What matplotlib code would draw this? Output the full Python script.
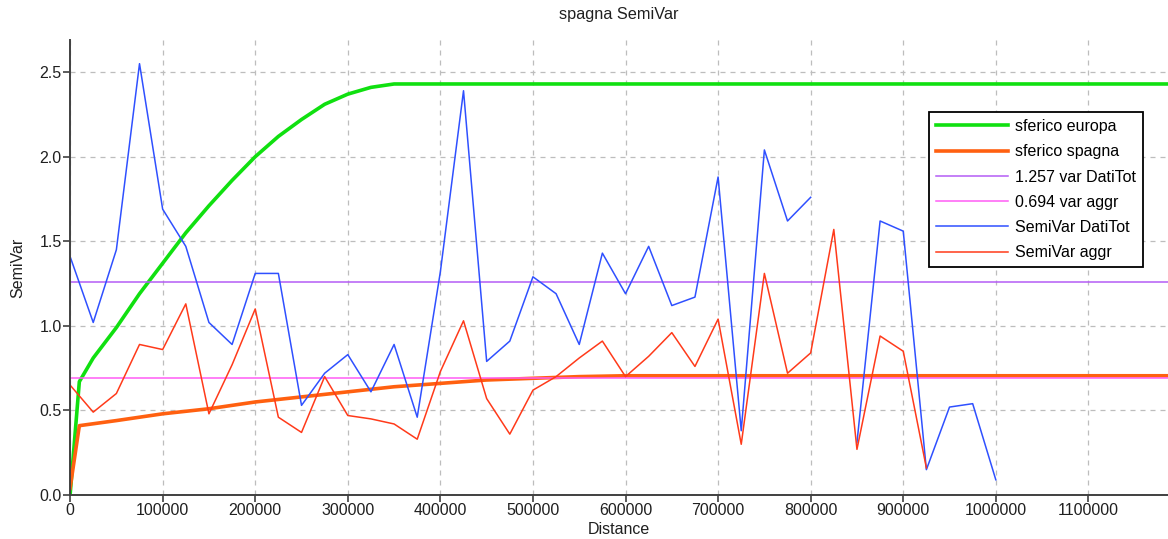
import numpy as np
import matplotlib
matplotlib.use("Agg")
import matplotlib.pyplot as plt

plt.rcParams['font.family'] = ['Liberation Sans', 'DejaVu Sans']
plt.rcParams['font.size'] = 11.5

# experimental semivariogram lags (step 25 km)
lags = np.arange(0, 1000001, 25000)

semivar_datitot = [1.41, 1.02, 1.45, 2.55, 1.69, 1.47, 1.02, 0.89, 1.31, 1.31,
                   0.53, 0.72, 0.83, 0.61, 0.89, 0.46, 1.32, 2.39, 0.79, 0.91,
                   1.29, 1.19, 0.89, 1.43, 1.19, 1.47, 1.12, 1.17, 1.88, 0.38,
                   2.04, 1.62, 1.76, np.nan, 0.31, 1.62, 1.56, 0.15, 0.52, 0.54,
                   0.09]

semivar_aggr = [0.65, 0.49, 0.60, 0.89, 0.86, 1.13, 0.48, 0.77, 1.10, 0.46,
                0.37, 0.70, 0.47, 0.45, 0.42, 0.33, 0.73, 1.03, 0.57, 0.36,
                0.62, 0.70, 0.81, 0.91, 0.70, 0.82, 0.96, 0.76, 1.04, 0.30,
                1.31, 0.72, 0.84, 1.57, 0.27, 0.94, 0.85, 0.16]

# fitted spherical models
europa_x = [0, 10000, 25000, 50000, 75000, 100000, 125000, 150000, 175000,
            200000, 225000, 250000, 275000, 300000, 325000, 350000, 1186000]
europa_y = [0.0, 0.67, 0.81, 0.99, 1.19, 1.37, 1.55, 1.71, 1.86,
            2.00, 2.12, 2.22, 2.31, 2.37, 2.41, 2.43, 2.43]

spagna_x = [0, 10000, 50000, 100000, 150000, 200000, 250000, 300000, 350000,
            400000, 450000, 500000, 550000, 600000, 1186000]
spagna_y = [0.04, 0.41, 0.44, 0.48, 0.51, 0.55, 0.58, 0.61, 0.64,
            0.66, 0.68, 0.69, 0.70, 0.705, 0.705]

var_datitot = 1.257
var_aggr = 0.694

fig = plt.figure(figsize=(11.68, 5.39), dpi=100)
ax = fig.add_axes([0.06, 0.0816, 0.94, 0.8442])

ax.plot(europa_x, europa_y, color='#10e010', lw=2.6, label='sferico europa')
ax.plot(spagna_x, spagna_y, color='#ff6010', lw=2.6, label='sferico spagna')
ax.axhline(var_datitot, color='#b45cf5', lw=1.1, label='%.3f var DatiTot' % var_datitot)
ax.axhline(var_aggr, color='#ff5cf5', lw=1.1, label='%.3f var aggr' % var_aggr)
ax.plot(lags[:len(semivar_datitot)], semivar_datitot, color='#2f50ff', lw=1.1,
        label='SemiVar DatiTot')
ax.plot(lags[:len(semivar_aggr)], semivar_aggr, color='#ff3a1a', lw=1.1,
        label='SemiVar aggr')

ax.set_xlim(0, 1186000)
ax.set_ylim(0, 2.69)
ax.set_xticks(np.arange(0, 1100001, 100000))
ax.set_yticks(np.arange(0, 2.51, 0.5))
ax.set_yticklabels(['%.1f' % v for v in np.arange(0, 2.51, 0.5)])
ax.set_xticklabels(['%d' % v for v in np.arange(0, 1100001, 100000)])

ax.grid(True, color='#bdbdbd', linestyle=(0, (4, 4)), lw=0.9)
for side in ['top', 'right']:
    ax.spines[side].set_visible(False)
for side in ['left', 'bottom']:
    ax.spines[side].set_color('#404040')
    ax.spines[side].set_linewidth(1.4)
ax.tick_params(direction='out', length=5, width=1.2, color='#404040',
               labelcolor='#202020', pad=1)

ax.set_title('spagna SemiVar', fontsize=11.7, pad=15, color='#202020')
ax.set_xlabel('Distance', labelpad=2.5, color='#202020')
ax.set_ylabel('SemiVar', labelpad=10, color='#202020')

leg = ax.legend(loc='upper right', bbox_to_anchor=(0.977, 0.842), fancybox=False,
                framealpha=1, edgecolor='black', handlelength=4.5,
                handletextpad=0.4, labelspacing=0.64, borderpad=0.45,
                borderaxespad=0)
leg.get_frame().set_linewidth(1.3)

fig.savefig('out.png', dpi=100)
